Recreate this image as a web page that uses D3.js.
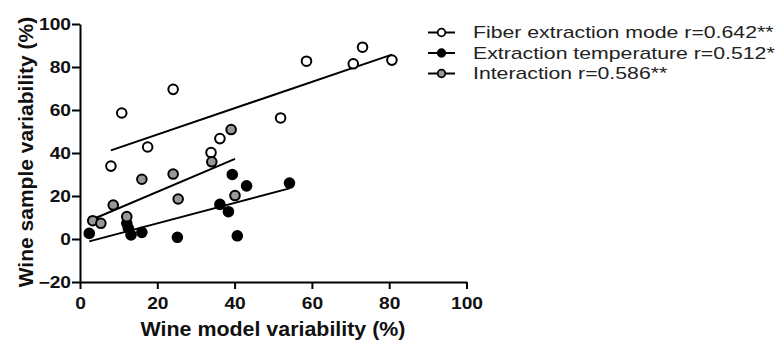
<!DOCTYPE html>
<html>
<head>
<meta charset="utf-8">
<script src="https://cdn.jsdelivr.net/npm/d3@7"></script>
<style>
  body { margin: 0; background: #fff; }
  svg text { font-family: "Liberation Sans", Arial, sans-serif; }
  .axis text { font-size: 16px; font-weight: bold; fill: #111; }
  .axis path, .axis line { stroke: #000; stroke-width: 2px; }
</style>
</head>
<body>
<svg width="775" height="340"></svg>
<script>
  const seriesNames = ['Fiber extraction mode r=0.642**', 'Extraction temperature r=0.512*', 'Interaction r=0.586**'];
  const seriesFills = ['#fff', '#000', '#999'];

  const fiberX = [8.0, 10.8, 17.5, 24.1, 33.9, 36.2, 51.9, 58.6, 70.7, 73.1, 80.7];
  const fiberY = [33.9, 58.6, 42.8, 69.6, 40.2, 46.7, 56.3, 82.7, 81.5, 89.2, 83.2];

  const tempX = [2.4, 12.1, 12.5, 13.2, 16.0, 25.2, 36.2, 38.4, 39.4, 40.7, 43.1, 54.2];
  const tempY = [2.6, 7.3, 5.0, 1.9, 3.1, 0.8, 16.1, 12.7, 30.0, 1.5, 24.7, 26.0];

  const interX = [3.3, 5.4, 8.6, 12.1, 16.0, 24.1, 25.4, 34.1, 39.1, 40.1];
  const interY = [8.5, 7.3, 15.8, 10.4, 27.8, 30.2, 18.6, 35.9, 50.9, 20.2];

  const xTicks = [0, 20, 40, 60, 80, 100];
  const yTicks = [-20, 0, 20, 40, 60, 80, 100];

  const svg = d3.select('svg');
  const x = d3.scaleLinear().domain([0, 100]).range([80, 466.5]);
  const y = d3.scaleLinear().domain([-20, 100]).range([282, 24]);

  // the source picture has its lettering a bit wider than plain Arial
  const widen = (sel, k) => {
    sel.each(function() {
      const t = d3.select(this);
      const tx = +t.attr('x') || 0;
      t.attr('x', 0).attr('transform', 'translate(' + tx + ',0) scale(' + k + ',1)');
    });
  };

  // least squares fit, drawn from min x to max x
  const fitLine = (xs, ys) => {
    const mx = d3.mean(xs), my = d3.mean(ys);
    let sxy = 0, sxx = 0;
    xs.forEach((v, i) => { sxy += (v - mx) * (ys[i] - my); sxx += (v - mx) * (v - mx); });
    const b = sxy / sxx, a = my - b * mx;
    const [x0, x1] = d3.extent(xs);
    return [[x0, a + b * x0], [x1, a + b * x1]];
  };

  const series = [
    { xs: fiberX, ys: fiberY, fill: seriesFills[0] },
    { xs: tempX, ys: tempY, fill: seriesFills[1] },
    { xs: interX, ys: interY, fill: seriesFills[2] }
  ];

  // axes
  const xAxis = svg.append('g')
    .attr('class', 'axis')
    .attr('transform', 'translate(0,282)')
    .call(d3.axisBottom(x).tickValues(xTicks).tickSize(7).tickSizeOuter(0).tickPadding(9));
  widen(xAxis.selectAll('text'), 1.2);

  const yAxis = svg.append('g')
    .attr('class', 'axis')
    .attr('transform', 'translate(80,0)')
    .call(d3.axisLeft(y).tickValues(yTicks).tickSize(8).tickSizeOuter(0).tickPadding(1));
  widen(yAxis.selectAll('text'), 1.2);

  // fit lines
  series.forEach((s) => {
    svg.append('path')
      .datum(fitLine(s.xs, s.ys))
      .attr('d', d3.line().x(d => x(d[0])).y(d => y(d[1])))
      .attr('stroke', '#000')
      .attr('stroke-width', 2)
      .attr('fill', 'none');
  });

  // points
  series.forEach((s) => {
    svg.append('g').selectAll('circle')
      .data(s.xs.map((v, i) => [v, s.ys[i]]))
      .enter().append('circle')
        .attr('cx', d => x(d[0]))
        .attr('cy', d => y(d[1]))
        .attr('r', 4.8)
        .attr('fill', s.fill)
        .attr('stroke', '#000')
        .attr('stroke-width', 2);
  });

  // axis titles
  svg.append('text')
    .attr('x', 273)
    .attr('y', 336)
    .attr('text-anchor', 'middle')
    .style('font-size', '20px')
    .style('font-weight', 'bold')
    .style('fill', '#111')
    .text('Wine model variability (%)')
    .call(widen, 1.07);

  svg.append('text')
    .attr('transform', 'translate(33,152) rotate(-90)')
    .attr('text-anchor', 'middle')
    .style('font-size', '21px')
    .style('font-weight', 'bold')
    .style('fill', '#111')
    .text('Wine sample variability (%)');

  // legend
  const legend = svg.append('g').attr('transform', 'translate(428,0)');
  seriesNames.forEach((name, i) => {
    const ly = 32.5 + i * 20.5;
    legend.append('line')
      .attr('x1', 0).attr('x2', 27)
      .attr('y1', ly).attr('y2', ly)
      .attr('stroke', '#000').attr('stroke-width', 2);
    legend.append('circle')
      .attr('cx', 13.5).attr('cy', ly).attr('r', 3.8)
      .attr('fill', seriesFills[i])
      .attr('stroke', '#000').attr('stroke-width', 1.8);
    legend.append('text')
      .attr('x', 45).attr('y', ly + 6)
      .style('font-size', '17px')
      .style('fill', '#222')
      .text(name)
      .call(widen, 1.25);
  });
</script>
</body>
</html>
